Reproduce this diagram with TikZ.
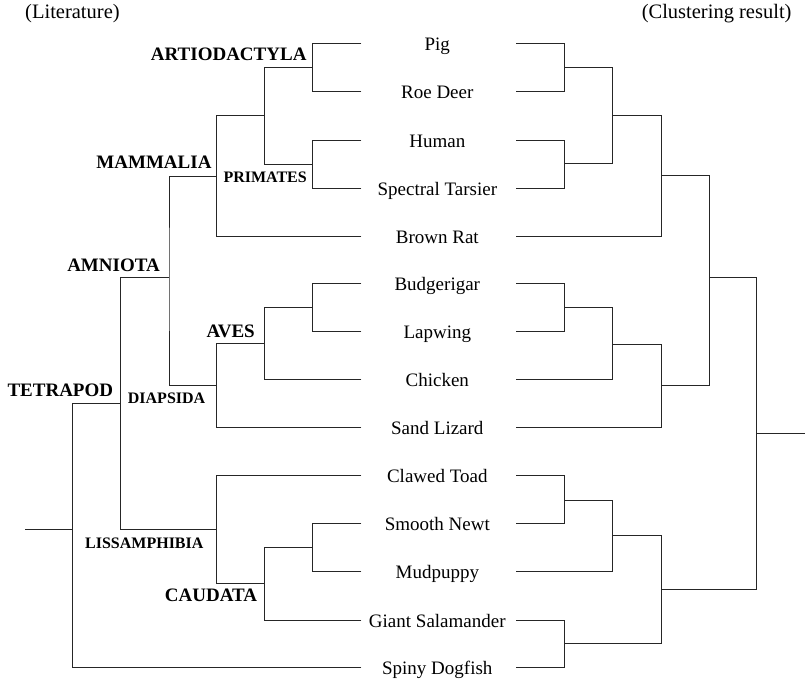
\documentclass[tikz,border=0pt]{standalone}
\usepackage{fontspec}
\setmainfont{Liberation Serif}
\begin{document}
\begin{tikzpicture}[x=1pt,y=-1pt,
  br/.style={line width=0.9pt, draw=black!85, line cap=rect},
  leaf/.style={anchor=base, inner sep=0pt, font=\fontsize{19}{22}\selectfont},
  clade/.style={anchor=base east, inner sep=0pt, font=\bfseries\fontsize{19}{22}\selectfont},
  smallclade/.style={anchor=base west, inner sep=0pt, font=\bfseries\fontsize{16}{19}\selectfont},
  titletext/.style={inner sep=0pt, font=\fontsize{20.5}{24}\selectfont}]
\useasboundingbox (0,0) rectangle (805,683);

% titles
\node[titletext, anchor=base west] (tlit) at (25,18.5) {(Literature)};
\node[titletext, anchor=base east] (tclu) at (791.7,18.5) {(Clustering result)};

% leaf labels
\node[leaf] (pig)  at (437.3, 50.5) {Pig};
\node[leaf] (roe)  at (437.3, 98.9) {Roe Deer};
\node[leaf] (hum)  at (437.3,147.2) {Human};
\node[leaf] (tar)  at (437.3,195.2) {Spectral Tarsier};
\node[leaf] (rat)  at (437.3,243.2) {Brown Rat};
\node[leaf] (bud)  at (437.3,290.5) {Budgerigar};
\node[leaf] (lap)  at (437.3,338.9) {Lapwing};
\node[leaf] (chi)  at (437.3,386.9) {Chicken};
\node[leaf] (liz)  at (437.3,434.9) {Sand Lizard};
\node[leaf] (toa)  at (437.3,482.9) {Clawed Toad};
\node[leaf] (new)  at (437.3,530.5) {Smooth Newt};
\node[leaf] (mud)  at (437.3,578.9) {Mudpuppy};
\node[leaf] (sal)  at (437.3,627.2) {Giant Salamander};
\node[leaf] (dog)  at (437.3,674.9) {Spiny Dogfish};

% leaf line ends (left tree)
\coordinate (lpig) at (361, 43.3);
\coordinate (lroe) at (361, 91.7);
\coordinate (lhum) at (361,140.0);
\coordinate (ltar) at (361,188.0);
\coordinate (lrat) at (361,236.0);
\coordinate (lbud) at (361,283.3);
\coordinate (llap) at (361,331.7);
\coordinate (lchi) at (361,379.7);
\coordinate (lliz) at (361,427.7);
\coordinate (ltoa) at (361,475.7);
\coordinate (lnew) at (361,523.3);
\coordinate (lmud) at (361,571.7);
\coordinate (lsal) at (361,620.0);
\coordinate (ldog) at (361,667.7);

% leaf line starts (right tree)
\coordinate (rpig) at (516.7, 43.3);
\coordinate (rroe) at (516.7, 91.7);
\coordinate (rhum) at (516.7,140.0);
\coordinate (rtar) at (516.7,188.0);
\coordinate (rrat) at (516.7,236.0);
\coordinate (rbud) at (516.7,283.3);
\coordinate (rlap) at (516.7,331.7);
\coordinate (rchi) at (516.7,379.7);
\coordinate (rliz) at (516.7,427.7);
\coordinate (rtoa) at (516.7,475.7);
\coordinate (rnew) at (516.7,523.3);
\coordinate (rmud) at (516.7,571.7);
\coordinate (rsal) at (516.7,620.0);
\coordinate (rdog) at (516.7,667.7);

% ---------- left tree (literature) ----------
\coordinate (nArt) at (312.7, 67.5);
\coordinate (nPri) at (312.7,164.0);
\coordinate (nAP)  at (264.3,115.7);
\coordinate (nMam) at (216.7,176.0);
\coordinate (nBL)  at (312.7,307.5);
\coordinate (nAve) at (264.3,343.6);
\coordinate (nDia) at (216.7,385.7);
\coordinate (nAmn) at (169.0,277.7);
\coordinate (nNM)  at (312.7,547.5);
\coordinate (nCau) at (264.3,583.5);
\coordinate (nLis) at (216.7,529.3);
\coordinate (nTL)  at (120.7,403.3);
\coordinate (nTet) at (72.7,529.3);
\coordinate (nRoot) at (25,529.3);

\draw[br] (lpig) -| (nArt) |- (lroe);
\draw[br] (lhum) -| (nPri) |- (ltar);
\draw[br] (nArt) -| (nAP) |- (nPri);
\draw[br] (nAP) -| (nMam) |- (lrat);
\draw[br] (lbud) -| (nBL) |- (llap);
\draw[br] (nBL) -| (nAve) |- (lchi);
\draw[br] (nAve) -| (nDia) |- (lliz);
\draw[br] (nMam) -| (nAmn) |- (nDia);
\draw[br] (lnew) -| (nNM) |- (lmud);
\draw[br] (nNM) -| (nCau) |- (lsal);
\draw[br] (ltoa) -| (nLis) |- (nCau);
\draw[br] (nAmn) -| (nTL) |- (nLis);
\draw[br] (nTL) -| (nTet) |- (ldog);
\draw[br] (nRoot) -- (nTet);

% clade labels
\node[clade] (cArt) at (306.7, 60.7) {ARTIODACTYLA};
\node[clade] (cMam) at (211.7,168.3) {MAMMALIA};
\node[smallclade] (cPri) at (223.3,182.3) {PRIMATES};
\node[clade] (cAmn) at (160.0,271.7) {AMNIOTA};
\node[clade] (cAve) at (255.0,337.3) {AVES};
\node[clade] (cTet) at (113.3,396.7) {TETRAPOD};
\node[smallclade] (cDia) at (127.7,403.3) {DIAPSIDA};
\node[smallclade] (cLis) at (85.0,548.3) {LISSAMPHIBIA};
\node[clade] (cCau) at (257.3,601.7) {CAUDATA};

% ---------- right tree (clustering) ----------
\coordinate (m01)   at (564.3, 67.3);
\coordinate (m23)   at (564.3,163.3);
\coordinate (m03)   at (612.7,115.7);
\coordinate (m04)   at (661.0,175.7);
\coordinate (m56)   at (564.3,307.7);
\coordinate (m57)   at (612.7,344.0);
\coordinate (m58)   at (661.0,385.7);
\coordinate (m08)   at (709.0,277.7);
\coordinate (m910)  at (564.3,500.0);
\coordinate (m911)  at (612.7,535.7);
\coordinate (m1213) at (564.3,643.3);
\coordinate (m913)  at (661.0,589.5);
\coordinate (mRoot) at (756.7,433.5);
\coordinate (mEnd)  at (805,433.5);

\draw[br] (rpig) -| (m01) |- (rroe);
\draw[br] (rhum) -| (m23) |- (rtar);
\draw[br] (m01) -| (m03) |- (m23);
\draw[br] (m03) -| (m04) |- (rrat);
\draw[br] (rbud) -| (m56) |- (rlap);
\draw[br] (m56) -| (m57) |- (rchi);
\draw[br] (m57) -| (m58) |- (rliz);
\draw[br] (m04) -| (m08) |- (m58);
\draw[br] (rtoa) -| (m910) |- (rnew);
\draw[br] (m910) -| (m911) |- (rmud);
\draw[br] (rsal) -| (m1213) |- (rdog);
\draw[br] (m911) -| (m913) |- (m1213);
\draw[br] (m08) -| (mRoot) |- (m913);
\draw[br] (mRoot) -- (mEnd);
\end{tikzpicture}
\end{document}
